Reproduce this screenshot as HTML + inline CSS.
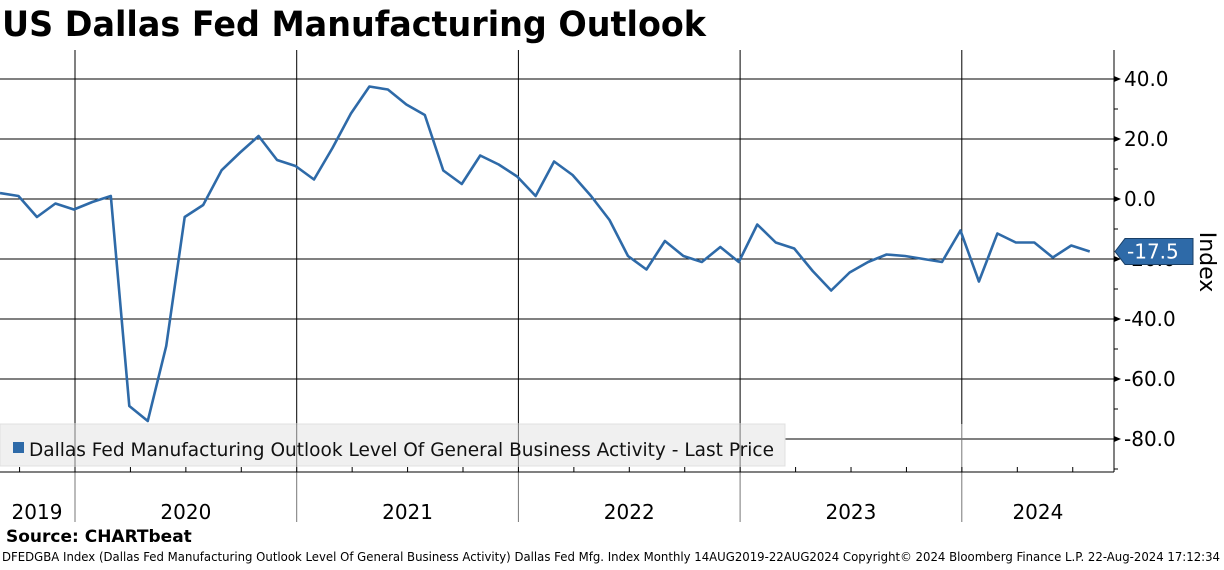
<!DOCTYPE html>
<html><head><meta charset="utf-8"><style>
body{margin:0;background:#fff;width:1224px;height:566px;overflow:hidden;font-family:"DejaVu Sans","Liberation Sans",sans-serif}
</style></head><body>
<svg width="1224" height="566" xmlns="http://www.w3.org/2000/svg">
<text x="2" y="36" font-size="35" font-weight="bold" textLength="704" lengthAdjust="spacingAndGlyphs" font-family="DejaVu Sans, Liberation Sans, sans-serif">US Dallas Fed Manufacturing Outlook</text>
<g id="grid"></g>
<rect x="0" y="424" width="785" height="42" fill="#f0f0f0" stroke="#e0e0e0"/>
<g id="vgrid"></g>
<rect x="13" y="442" width="11" height="11" fill="#2e6aa8"/>
<text x="29" y="456" font-size="19" fill="#111" textLength="745" lengthAdjust="spacingAndGlyphs">Dallas Fed Manufacturing Outlook Level Of General Business Activity - Last Price</text>
<g id="series"></g>
<g id="axis"></g>
<text transform="translate(1200,262) rotate(90)" font-size="22" text-anchor="middle">Index</text>
<text x="6" y="542" font-size="17" font-weight="bold">Source: CHARTbeat</text>
<text x="2" y="561" font-size="12" textLength="1218" lengthAdjust="spacingAndGlyphs">DFEDGBA Index (Dallas Fed Manufacturing Outlook Level Of General Business Activity) Dallas Fed Mfg. Index  Monthly 14AUG2019-22AUG2024 Copyright© 2024 Bloomberg Finance L.P. 22-Aug-2024 17:12:34</text>
</svg>
<script>
const values=[2,1,-6,-1.5,-3.5,-1,1,-69,-74,-49,-6,-2,9.6,15.5,21,13,11,6.5,17,28.5,37.5,36.5,31.5,28,9.5,5,14.5,11.5,7.5,1,12.5,8,1,-7,-19,-23.5,-14,-19,-21,-16,-21,-8.5,-14.5,-16.5,-24,-30.5,-24.5,-21,-18.5,-19,-20,-21,-10.5,-27.5,-11.5,-14.5,-14.5,-19.5,-15.5,-17.5];
const yTicks=[40,20,0,-20,-40,-60,-80];
const years=["2019","2020","2021","2022","2023","2024"];
const lastValue=-17.5;
const NS="http://www.w3.org/2000/svg";
const X=i=>i*18.47, Y=v=>199-3*v;
const yearX=k=>75+(k-1)*221.7;
function mk(t,a,p){const e=document.createElementNS(NS,t);for(const k in a)e.setAttribute(k,a[k]);p.appendChild(e);return e;}
const grid=document.getElementById('grid'),vg=document.getElementById('vgrid'),ax=document.getElementById('axis'),se=document.getElementById('series');
yTicks.forEach(v=>{
 const l=mk('line',{x1:0,x2:1114,y1:Y(v),y2:Y(v),stroke:'#000','stroke-width':1},grid);
 
 
 mk('path',{d:`M1114 ${Y(v)-3}L1121 ${Y(v)}L1114 ${Y(v)+3}Z`,fill:'#000'},ax);
 const t=mk('text',{x:1124,y:Y(v)+7,'font-size':20},ax);t.textContent=v.toFixed(1);
 
 
});
for(let v=30;v>=-90;v-=20){mk('line',{x1:1114,x2:1118,y1:Y(v),y2:Y(v),stroke:'#000'},ax);}
mk('line',{x1:1114,x2:1114,y1:50,y2:472,stroke:'#000'},ax);
mk('line',{x1:0,x2:1114,y1:472,y2:472,stroke:'#000'},ax);
for(let k=1;k<=5;k++){const x=yearX(k);
 const l=mk('line',{x1:x,x2:x,y1:50,y2:424,stroke:'#000'},grid);
 
 
 mk('line',{x1:x,x2:x,y1:424,y2:522,stroke:'#777'},vg);}
for(let q=-3;q<24;q++){const x=75+q*55.43;if(x>0&&x<1114)mk('line',{x1:x,x2:x,y1:472,y2:467,stroke:'#000'},ax);}
years.forEach((y,k)=>{
 const a=k===0?0:yearX(k),b=k===5?1114:yearX(k+1);const cx=k===0?37:(a+b)/2;
 const t=mk('text',{x:cx,y:519,'font-size':20,'text-anchor':'middle'},ax);t.textContent=y;
 
 
});
const line=mk('polyline',{points:values.map((v,i)=>X(i)+','+Y(v)).join(' '),fill:'none',stroke:'#2e6aa8','stroke-width':2.6,'stroke-linejoin':'round'},se);


const yl=Y(lastValue);
const tag=mk('path',{d:`M1115 ${yl}L1125 ${yl-13}L1193 ${yl-13}L1193 ${yl+13}L1125 ${yl+13}Z`,fill:'#2e6aa8',stroke:'#1a3f66'},ax);


const tt=mk('text',{x:1127,y:yl+7,'font-size':20,fill:'#fff'},ax);tt.textContent=lastValue.toFixed(1);


</script>
</body></html>
